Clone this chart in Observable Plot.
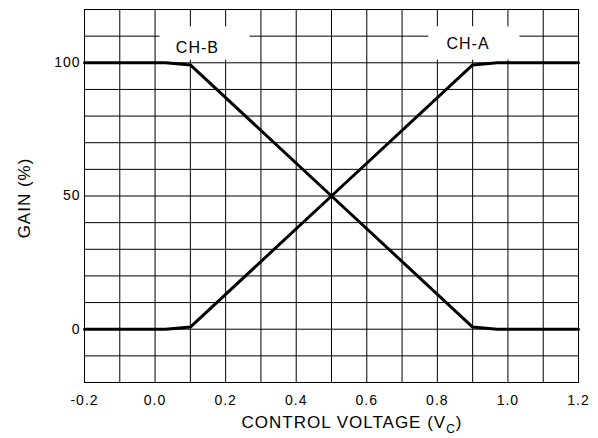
<!DOCTYPE html>
<html><head><meta charset="utf-8">
<script src="https://cdn.jsdelivr.net/npm/d3@7"></script>
<script src="https://cdn.jsdelivr.net/npm/@observablehq/plot@0.6"></script>
<style>
body{margin:0;background:#fff;}
#chart svg{display:block;}
#chart svg text{letter-spacing:1px;}
</style></head><body><div id="chart"></div>
<script>
// Series values
const voltageA = [-0.2, 0.03, 0.1, 0.5, 0.9, 0.97, 1.2];
const gainA    = [0, 0, 0.8, 50, 99.2, 100, 100];
const voltageB = [-0.2, 0.03, 0.1, 0.5, 0.9, 0.97, 1.2];
const gainB    = [100, 100, 99.2, 50, 0.8, 0, 0];
// Ticks and grid
const xTicks = [-0.2, 0.0, 0.2, 0.4, 0.6, 0.8, 1.0, 1.2];
const yTicks = [0, 50, 100];
const xGrid = [-0.2, -0.1, 0.0, 0.1, 0.2, 0.3, 0.4, 0.5, 0.6, 0.7, 0.8, 0.9, 1.0, 1.1, 1.2];
const yGrid = [-20, -10, 0, 10, 20, 30, 40, 50, 60, 70, 80, 90, 100, 110, 120];
// Channel labels (data units)
const channelNames = ["CH-B", "CH-A"];
const labelVoltage = [0.12, 0.887];
const labelGain = [105.5, 107];
const boxVoltageFrom = [0.014, 0.776];
const boxVoltageTo = [0.269, 1.034];
const boxGainFrom = [101, 101];
const boxGainTo = [113.5, 113.5];

const series = [
  ...voltageA.map((v, i) => ({v, g: gainA[i], ch: "CH-A"})),
  ...voltageB.map((v, i) => ({v, g: gainB[i], ch: "CH-B"}))
];
const labels = channelNames.map((name, i) => ({
  name, x: labelVoltage[i], y: labelGain[i],
  x1: boxVoltageFrom[i], x2: boxVoltageTo[i], y1: boxGainFrom[i], y2: boxGainTo[i]
}));

const plot = Plot.plot({
  width: 598, height: 438,
  marginLeft: 84, marginRight: 20, marginTop: 9, marginBottom: 56,
  style: {fontFamily: "'Liberation Sans', Arial, Helvetica, sans-serif", background: "white", color: "black"},
  x: {domain: [-0.2, 1.2]},
  y: {domain: [-20, 120]},
  marks: [
    Plot.gridX(xGrid, {stroke: "black", strokeOpacity: 1, strokeWidth: 1}),
    Plot.gridY(yGrid, {stroke: "black", strokeOpacity: 1, strokeWidth: 1}),
    Plot.frame({stroke: "black", strokeWidth: 1}),
    Plot.rect(labels, {x1: "x1", x2: "x2", y1: "y1", y2: "y2", fill: "white"}),
    Plot.text(labels, {x: "x", y: "y", text: "name", fontSize: 16, fill: "black"}),
    Plot.line(series, {x: "v", y: "g", z: "ch", stroke: "black", strokeWidth: 3, strokeLinejoin: "miter"}),
    Plot.axisX(xTicks, {tickSize: 0, tickPadding: 13, fontSize: 14, tickFormat: d => d.toFixed(1), label: null}),
    Plot.axisY(yTicks, {tickSize: 0, tickPadding: 4, fontSize: 14, tickFormat: d => String(d), label: null})
  ]
});

const svg = d3.select(plot);
const xt = svg.append("text")
  .attr("x", 352).attr("y", 428)
  .attr("text-anchor", "middle")
  .attr("font-size", 17)
  .attr("fill", "black");
xt.append("tspan").text("CONTROL VOLTAGE (V");
xt.append("tspan").attr("font-size", 12).attr("dy", 5).text("C");
xt.append("tspan").attr("dy", -5).text(")");

svg.append("text")
  .attr("transform", "translate(30,198) rotate(-90)")
  .attr("text-anchor", "middle")
  .attr("font-size", 17)
  .attr("fill", "black")
  .text("GAIN (%)");

document.getElementById("chart").appendChild(plot);
</script>
</body></html>
